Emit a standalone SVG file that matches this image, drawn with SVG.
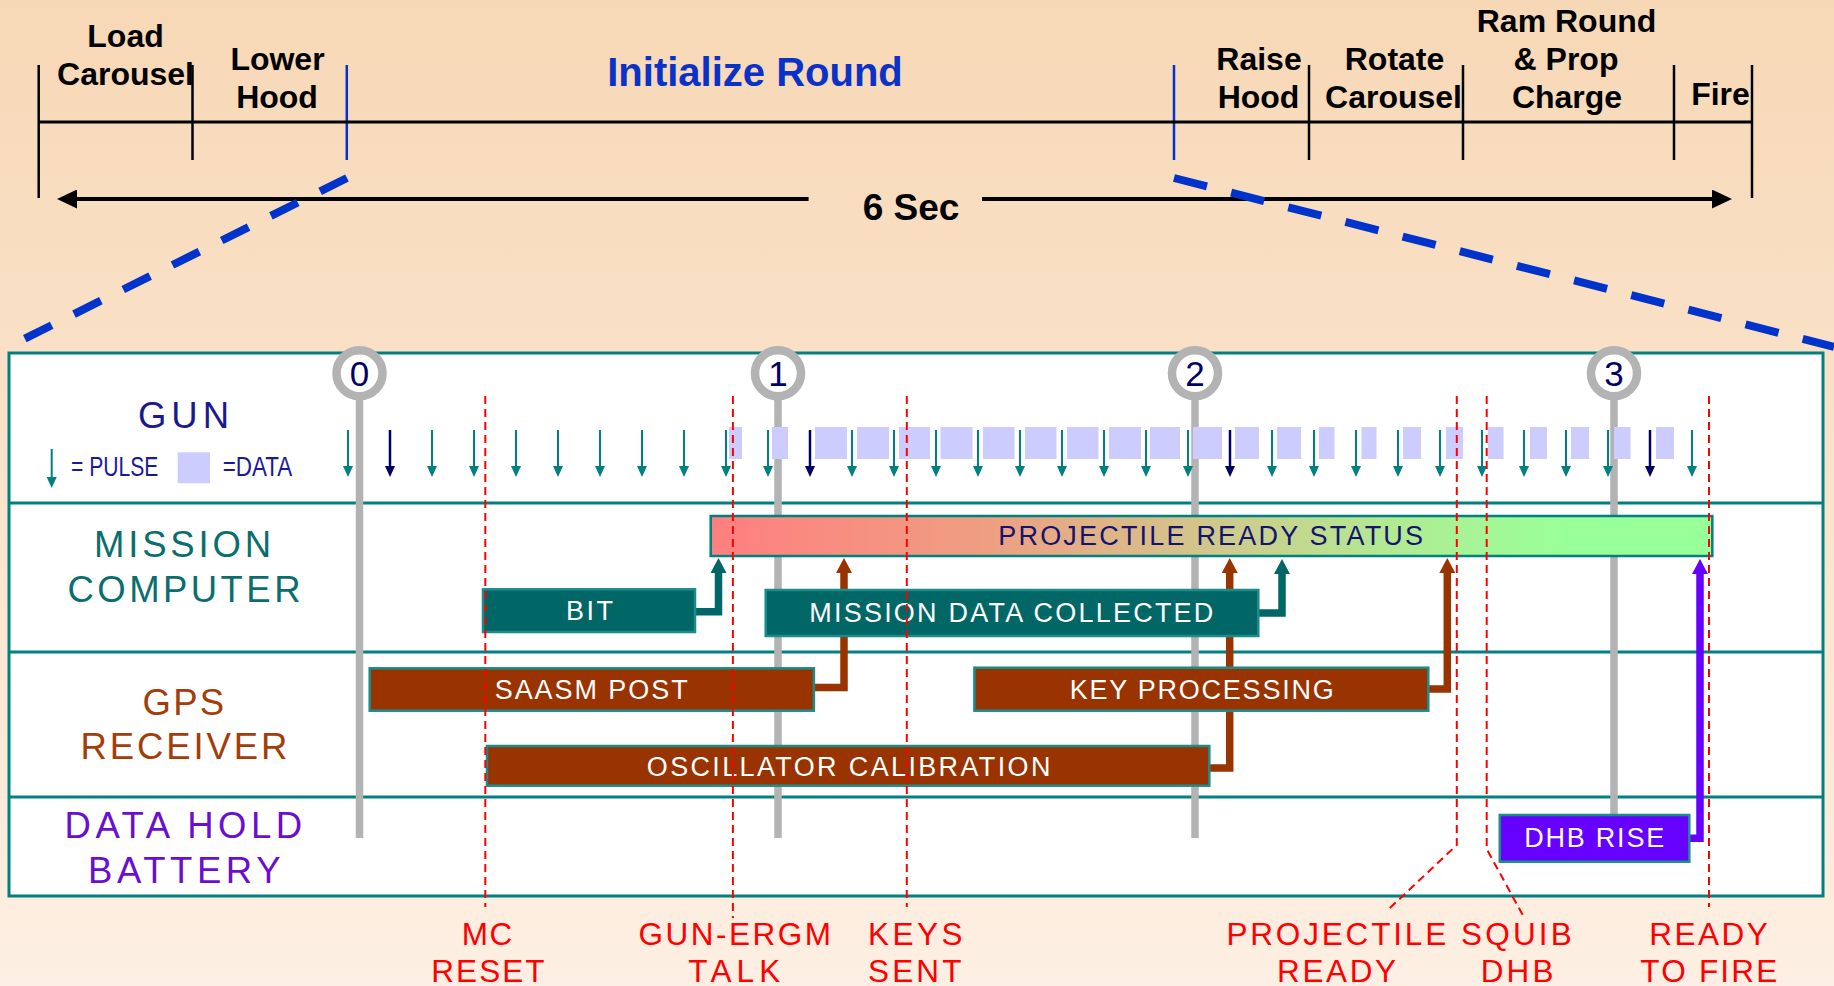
<svg xmlns="http://www.w3.org/2000/svg" width="1834" height="986" viewBox="0 0 1834 986">
<defs>
<linearGradient id="bg" x1="0" y1="0" x2="0" y2="1">
<stop offset="0" stop-color="#f7d8b6"/>
<stop offset="1" stop-color="#fdefe3"/>
</linearGradient>
<linearGradient id="status" x1="0" y1="0" x2="1" y2="0">
<stop offset="0" stop-color="#ff7f7f"/>
<stop offset="0.28" stop-color="#ee9f82"/>
<stop offset="0.48" stop-color="#d4c48a"/>
<stop offset="0.68" stop-color="#b2ea92"/>
<stop offset="0.85" stop-color="#99ff99"/>
<stop offset="1" stop-color="#99ff99"/>
</linearGradient>
<marker id="mBlack" markerUnits="userSpaceOnUse" orient="auto" markerWidth="20" markerHeight="19" refX="0" refY="9.5" viewBox="0 0 20 19"><path d="M0,0 L20,9.5 L0,19 z" fill="#000"/></marker>
<marker id="mPulse" markerUnits="userSpaceOnUse" orient="auto" markerWidth="11" markerHeight="10" refX="0" refY="5" viewBox="0 0 11 10"><path d="M0,0 L11,5 L0,10 z" fill="#008080"/></marker>
<marker id="mPulseN" markerUnits="userSpaceOnUse" orient="auto" markerWidth="11" markerHeight="10" refX="0" refY="5" viewBox="0 0 11 10"><path d="M0,0 L11,5 L0,10 z" fill="#000066"/></marker>
<marker id="mTeal" markerUnits="userSpaceOnUse" orient="auto" markerWidth="15" markerHeight="16" refX="0" refY="8" viewBox="0 0 15 16"><path d="M0,0 L15,8 L0,16 z" fill="#006666"/></marker>
<marker id="mBrown" markerUnits="userSpaceOnUse" orient="auto" markerWidth="15" markerHeight="16" refX="0" refY="8" viewBox="0 0 15 16"><path d="M0,0 L15,8 L0,16 z" fill="#993300"/></marker>
<marker id="mPurple" markerUnits="userSpaceOnUse" orient="auto" markerWidth="15" markerHeight="16" refX="0" refY="8" viewBox="0 0 15 16"><path d="M0,0 L15,8 L0,16 z" fill="#6600ff"/></marker>
</defs>
<style>
.hdr{font-family:"Liberation Sans",Arial,sans-serif;font-weight:bold;font-size:32px;fill:#000;text-anchor:middle}
.tick{stroke:#000;stroke-width:2.5}
.btick{stroke:#0033cc;stroke-width:2.5}
.zoomline{fill:none;stroke:#0033cc;stroke-width:8}
.lane{font-family:"Liberation Sans",Arial,sans-serif;font-size:36.5px}
.divider{stroke:#008080;stroke-width:3}
.gray{stroke:#b3b3b3;stroke-width:7.5}
.ring{fill:#fff;stroke:#b3b3b3;stroke-width:8.5}
.num{font-family:"Liberation Sans",Arial,sans-serif;font-size:35px;fill:#000066;text-anchor:middle}
.data{fill:#ccccff}
.pulse{stroke:#008080;stroke-width:2;marker-end:url(#mPulse)}
.pulseN{stroke:#000066;stroke-width:2.5;marker-end:url(#mPulseN)}
.box{stroke:#1a8c8c;stroke-width:2.5}
.bt{font-family:"Liberation Sans",Arial,sans-serif;font-size:27px;fill:#fff}
.conn{fill:none;stroke-width:7.5;stroke-linejoin:miter}
.ev{stroke:#ff0000;stroke-width:2;stroke-dasharray:8 5;fill:none}
.evt{font-family:"Liberation Sans",Arial,sans-serif;font-size:31.5px;fill:#ff0000}
</style>
<rect width="1834" height="986" fill="url(#bg)"/>

<g id="timeline">
<line class="tick" x1="38.7" y1="65" x2="38.7" y2="198"/>
<line class="tick" x1="192.5" y1="65" x2="192.5" y2="160"/>
<line class="btick" x1="346.8" y1="65" x2="346.8" y2="160"/>
<line class="btick" x1="1174" y1="65" x2="1174" y2="160"/>
<line class="tick" x1="1309" y1="65" x2="1309" y2="160"/>
<line class="tick" x1="1463" y1="65" x2="1463" y2="160"/>
<line class="tick" x1="1674" y1="65" x2="1674" y2="160"/>
<line class="tick" x1="1752" y1="65" x2="1752" y2="198"/>
<line x1="38.7" y1="122" x2="1752" y2="122" stroke="#000" stroke-width="3"/>
<text class="hdr" x="125.5" y="47">Load</text>
<text class="hdr" x="125.5" y="85">Carousel</text>
<text class="hdr" x="277.5" y="70">Lower</text>
<text class="hdr" x="277" y="108">Hood</text>
<text x="755" y="86" font-family="Liberation Sans, Arial, sans-serif" font-weight="bold" font-size="40" fill="#0a32c8" text-anchor="middle">Initialize Round</text>
<text class="hdr" x="1259" y="70">Raise</text>
<text class="hdr" x="1258.5" y="108">Hood</text>
<text class="hdr" x="1394.5" y="70">Rotate</text>
<text class="hdr" x="1393.5" y="108">Carousel</text>
<text class="hdr" x="1566.5" y="32">Ram Round</text>
<text class="hdr" x="1566" y="70">&amp; Prop</text>
<text class="hdr" x="1567" y="108">Charge</text>
<text class="hdr" x="1720.5" y="105">Fire</text>
<text x="911" y="220" font-family="Liberation Sans, Arial, sans-serif" font-weight="bold" font-size="37" text-anchor="middle">6 Sec</text>
<path d="M808.6,199 H77" stroke="#000" stroke-width="4" marker-end="url(#mBlack)"/>
<path d="M982,199 H1712" stroke="#000" stroke-width="4" marker-end="url(#mBlack)"/>
<path class="zoomline" d="M347,178 L18,342" stroke-dasharray="30 25"/>
<path class="zoomline" d="M1174,178 L1834,347" stroke-dasharray="34 25"/>
</g>

<g id="panel">
<rect x="9" y="353" width="1814" height="543" fill="#fff" stroke="#008080" stroke-width="3"/>
<line class="divider" x1="9" y1="503" x2="1823" y2="503"/>
<line class="divider" x1="9" y1="652" x2="1823" y2="652"/>
<line class="divider" x1="9" y1="797" x2="1823" y2="797"/>
</g>

<g id="seconds">
<line class="gray" x1="359.5" y1="395" x2="359.5" y2="838"/>
<line class="gray" x1="778" y1="395" x2="778" y2="838"/>
<line class="gray" x1="1195" y1="395" x2="1195" y2="838"/>
<line class="gray" x1="1614" y1="395" x2="1614" y2="838"/>
<circle class="ring" cx="359.5" cy="373.3" r="23"/>
<circle class="ring" cx="778" cy="373.3" r="23"/>
<circle class="ring" cx="1195" cy="373.3" r="23"/>
<circle class="ring" cx="1614" cy="373.3" r="23"/>
<text class="num" x="359.5" y="386">0</text>
<text class="num" x="778" y="386">1</text>
<text class="num" x="1195" y="386">2</text>
<text class="num" x="1614" y="386">3</text>
</g>

<g id="gun-data">
<rect class="data" x="729" y="427" width="13" height="32"/>
<rect class="data" x="772" y="427" width="16" height="32"/>
<rect class="data" x="815" y="427" width="32" height="32"/>
<rect class="data" x="857" y="427" width="32" height="32"/>
<rect class="data" x="899" y="427" width="31" height="32"/>
<rect class="data" x="940.5" y="427" width="32" height="32"/>
<rect class="data" x="983" y="427" width="31.5" height="32"/>
<rect class="data" x="1025" y="427" width="31.5" height="32"/>
<rect class="data" x="1067" y="427" width="31.5" height="32"/>
<rect class="data" x="1109" y="427" width="32" height="32"/>
<rect class="data" x="1150" y="427" width="30" height="32"/>
<rect class="data" x="1193" y="427" width="29" height="32"/>
<rect class="data" x="1235" y="427" width="24" height="32"/>
<rect class="data" x="1277" y="427" width="24" height="32"/>
<rect class="data" x="1319" y="427" width="15.5" height="32"/>
<rect class="data" x="1361.5" y="427" width="15" height="32"/>
<rect class="data" x="1403" y="427" width="18" height="32"/>
<rect class="data" x="1446" y="427" width="17" height="32"/>
<rect class="data" x="1488" y="427" width="15.5" height="32"/>
<rect class="data" x="1530" y="427" width="17" height="32"/>
<rect class="data" x="1571" y="427" width="18" height="32"/>
<rect class="data" x="1614" y="427" width="16.5" height="32"/>
<rect class="data" x="1656" y="427" width="18" height="32"/>
</g>

<g id="gun-pulses">
<line class="pulse" x1="348" y1="430" x2="348" y2="466"/>
<line class="pulseN" x1="390" y1="430" x2="390" y2="466"/>
<line class="pulse" x1="432" y1="430" x2="432" y2="466"/>
<line class="pulse" x1="474" y1="430" x2="474" y2="466"/>
<line class="pulse" x1="516" y1="430" x2="516" y2="466"/>
<line class="pulse" x1="558" y1="430" x2="558" y2="466"/>
<line class="pulse" x1="600" y1="430" x2="600" y2="466"/>
<line class="pulse" x1="642" y1="430" x2="642" y2="466"/>
<line class="pulse" x1="684" y1="430" x2="684" y2="466"/>
<line class="pulse" x1="726" y1="430" x2="726" y2="466"/>
<line class="pulse" x1="768" y1="430" x2="768" y2="466"/>
<line class="pulseN" x1="810" y1="430" x2="810" y2="466"/>
<line class="pulse" x1="852" y1="430" x2="852" y2="466"/>
<line class="pulse" x1="894" y1="430" x2="894" y2="466"/>
<line class="pulse" x1="936" y1="430" x2="936" y2="466"/>
<line class="pulse" x1="978" y1="430" x2="978" y2="466"/>
<line class="pulse" x1="1020" y1="430" x2="1020" y2="466"/>
<line class="pulse" x1="1062" y1="430" x2="1062" y2="466"/>
<line class="pulse" x1="1104" y1="430" x2="1104" y2="466"/>
<line class="pulse" x1="1146" y1="430" x2="1146" y2="466"/>
<line class="pulse" x1="1188" y1="430" x2="1188" y2="466"/>
<line class="pulseN" x1="1230" y1="430" x2="1230" y2="466"/>
<line class="pulse" x1="1272" y1="430" x2="1272" y2="466"/>
<line class="pulse" x1="1314" y1="430" x2="1314" y2="466"/>
<line class="pulse" x1="1356" y1="430" x2="1356" y2="466"/>
<line class="pulse" x1="1398" y1="430" x2="1398" y2="466"/>
<line class="pulse" x1="1440" y1="430" x2="1440" y2="466"/>
<line class="pulse" x1="1482" y1="430" x2="1482" y2="466"/>
<line class="pulse" x1="1524" y1="430" x2="1524" y2="466"/>
<line class="pulse" x1="1566" y1="430" x2="1566" y2="466"/>
<line class="pulse" x1="1608" y1="430" x2="1608" y2="466"/>
<line class="pulseN" x1="1650" y1="430" x2="1650" y2="466"/>
<line class="pulse" x1="1692" y1="430" x2="1692" y2="466"/>
</g>

<g id="lane-labels">
<text class="lane" x="138" y="428.3" textLength="91" fill="#1a1a8c">GUN</text>
<line class="pulse" x1="51.7" y1="449" x2="51.7" y2="477"/>
<text x="71" y="475.7" font-family="Liberation Sans, Arial, sans-serif" font-size="27" fill="#1a1a99" textLength="87.3" lengthAdjust="spacingAndGlyphs">= PULSE</text>
<rect class="data" x="177.7" y="452.3" width="32.3" height="31"/>
<text x="222.7" y="475.7" font-family="Liberation Sans, Arial, sans-serif" font-size="27" fill="#1a1a99" textLength="69.6" lengthAdjust="spacingAndGlyphs">=DATA</text>
<text class="lane" x="94" y="557.3" textLength="177" fill="#0a6e6e">MISSION</text>
<text class="lane" x="67.5" y="601.7" textLength="233" fill="#0a6e6e">COMPUTER</text>
<text class="lane" x="142.6" y="715" textLength="81.5" fill="#a33d0a">GPS</text>
<text class="lane" x="80.4" y="759.3" textLength="207" fill="#a33d0a">RECEIVER</text>
<text class="lane" x="64.5" y="838.3" textLength="237.7" fill="#6a0fd0">DATA HOLD</text>
<text class="lane" x="88" y="883.3" textLength="192.5" fill="#6a0fd0">BATTERY</text>
</g>

<g id="connectors">
<path class="conn" stroke="#006666" d="M695,611.7 H718.5 V573" marker-end="url(#mTeal)"/>
<path class="conn" stroke="#006666" d="M1258.3,613 H1282 V574" marker-end="url(#mTeal)"/>
<path class="conn" stroke="#993300" d="M813.9,687.5 H844 V573" marker-end="url(#mBrown)"/>
<path class="conn" stroke="#993300" d="M1209.3,768 H1229.7 V573" marker-end="url(#mBrown)"/>
<path class="conn" stroke="#993300" d="M1428.3,689 H1447.3 V573" marker-end="url(#mBrown)"/>
<path class="conn" stroke="#6600ff" stroke-width="8.5" d="M1689.3,838.3 H1700 V574" marker-end="url(#mPurple)"/>
</g>

<g id="projectile-ready-status">
<rect x="710.7" y="516" width="1001.6" height="40" fill="url(#status)" stroke="#008080" stroke-width="2.5"/>
<text x="998.3" y="544.8" font-family="Liberation Sans, Arial, sans-serif" font-size="27" fill="#14146e" textLength="424.7">PROJECTILE READY STATUS</text>
</g>
<g id="bit">
<rect class="box" x="483" y="589.3" width="212" height="42.7" fill="#006666"/>
<text class="bt" x="566" y="620" textLength="47">BIT</text>
</g>
<g id="mission-data-collected">
<rect class="box" x="765.7" y="590" width="492.6" height="46" fill="#006666"/>
<text class="bt" x="809.3" y="621.5" textLength="404">MISSION DATA COLLECTED</text>
</g>
<g id="saasm-post">
<rect class="box" x="369.7" y="668.3" width="444.2" height="42.4" fill="#993300"/>
<text class="bt" x="494.7" y="698.5" textLength="193">SAASM POST</text>
</g>
<g id="key-processing">
<rect class="box" x="974.4" y="667.7" width="453.9" height="43" fill="#993300"/>
<text class="bt" x="1069.7" y="698.5" textLength="264">KEY PROCESSING</text>
</g>
<g id="oscillator-calibration">
<rect class="box" x="487" y="746" width="722.3" height="39.7" fill="#993300"/>
<text class="bt" x="646.8" y="775.5" textLength="403.6">OSCILLATOR CALIBRATION</text>
</g>
<g id="dhb-rise">
<rect class="box" x="1499.8" y="815" width="189.5" height="46.7" fill="#6600ff"/>
<text class="bt" x="1524.2" y="847.3" textLength="140">DHB RISE</text>
</g>

<g id="events">
<path class="ev" d="M485.3,396 V907"/>
<path class="ev" d="M732.9,396 V918"/>
<path class="ev" d="M906.8,396 V907"/>
<path class="ev" d="M1456.8,396 V845 L1389.6,908.3"/>
<path class="ev" d="M1486.7,396 V849 L1523,915.5"/>
<path class="ev" d="M1709,396 V907"/>
<text class="evt" x="461.8" y="944.5" textLength="50.5">MC</text>
<text class="evt" x="431.3" y="982" textLength="113.3">RESET</text>
<text class="evt" x="638.4" y="944.5" textLength="192.5">GUN-ERGM</text>
<text class="evt" x="688.3" y="982" textLength="92">TALK</text>
<text class="evt" x="868" y="944.5" textLength="94.6">KEYS</text>
<text class="evt" x="868" y="982" textLength="93.5">SENT</text>
<text class="evt" x="1226.4" y="944.5" textLength="219.8">PROJECTILE</text>
<text class="evt" x="1461" y="944.5" textLength="110.8">SQUIB</text>
<text class="evt" x="1277" y="982" textLength="119.1">READY</text>
<text class="evt" x="1480.7" y="982" textLength="72.7">DHB</text>
<text class="evt" x="1649.3" y="944.5" textLength="118.5">READY</text>
<text class="evt" x="1640.3" y="982" textLength="137">TO FIRE</text>
</g>
</svg>
